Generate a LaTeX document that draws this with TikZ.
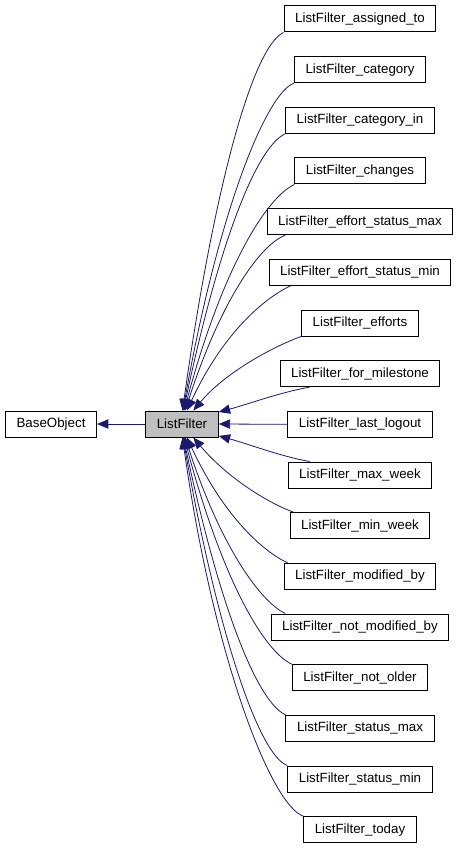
\documentclass[tikz,border=0pt]{standalone}
\usepackage{fontspec}
\setmainfont{Liberation Sans}
\usepackage{tikz}
\usetikzlibrary{arrows.meta}

\definecolor{linkblue}{HTML}{191970}
\definecolor{boxgray}{HTML}{BFBFBF}

\begin{document}
\begin{tikzpicture}[x=0.75pt, y=0.75pt, node distance={38pt},
    cls/.style = {draw, line width=0.75pt, minimum height=19.5pt, inner xsep=8.3pt, inner ysep=0pt},
    link/.style = {draw=linkblue, line width=0.6pt, -{Triangle[length=8.5pt,width=7pt]}, color=linkblue}]
            \useasboundingbox (0,0) rectangle (458,-848);

            \node[cls] (base) at (51,-424) {BaseObject};
            \node[cls, fill=boxgray] (lf) at (182,-424) {ListFilter};

            \node[cls] (asg) at (360,-19) {ListFilter\_assigned\_to};
            \node[cls] (cat) [below of=asg] {ListFilter\_category};
            \node[cls] (catin) [below of=cat] {ListFilter\_category\_in};
            \node[cls] (chg) [below of=catin] {ListFilter\_changes};
            \node[cls] (esmax) [below of=chg] {ListFilter\_effort\_status\_max};
            \node[cls] (esmin) [below of=esmax] {ListFilter\_effort\_status\_min};
            \node[cls] (eff) [below of=esmin] {ListFilter\_efforts};
            \node[cls] (formil) [below of=eff] {ListFilter\_for\_milestone};
            \node[cls] (lastlog) [below of=formil] {ListFilter\_last\_logout};
            \node[cls] (maxwk) [below of=lastlog] {ListFilter\_max\_week};
            \node[cls] (minwk) [below of=maxwk] {ListFilter\_min\_week};
            \node[cls] (modby) [below of=minwk] {ListFilter\_modified\_by};
            \node[cls] (notmod) [below of=modby] {ListFilter\_not\_modified\_by};
            \node[cls] (notold) [below of=notmod] {ListFilter\_not\_older};
            \node[cls] (stmax) [below of=notold] {ListFilter\_status\_max};
            \node[cls] (stmin) [below of=stmax] {ListFilter\_status\_min};
            \node[cls] (today) [below of=stmin] {ListFilter\_today};

            \draw[link] (lf.west) -- (base.east);

            % classes above ListFilter
            \draw[link] (asg.south west) .. controls +(205:35) and +(82:220) .. (lf.88);
            \draw[link] (cat.south west) .. controls +(200:30) and +(80:200) .. (lf.86);
            \draw[link] (catin.south west) .. controls +(205:30) and +(78:180) .. (lf.84);
            \draw[link] (chg.south west) .. controls +(205:30) and +(75:150) .. (lf.81);
            \draw[link] ([xshift=14pt]esmax.south west) .. controls +(200:25) and +(72:120) .. (lf.77);
            \draw[link] ([xshift=16.5pt]esmin.south west) .. controls +(205:25) and +(65:90) .. (lf.70);
            \draw[link] (eff.south west) .. controls +(200:30) and +(50:50) .. (lf.50);
            \draw[link] ([xshift=22.5pt]formil.south west) .. controls +(190:30) and +(15:30) .. (lf.18);

            \draw[link] (lastlog.west) -- (lf.east);

            % classes below ListFilter
            \draw[link] ([xshift=16.5pt]maxwk.north west) .. controls +(170:30) and +(-15:30) .. (lf.-18);
            \draw[link] ([xshift=3pt]minwk.north west) .. controls +(160:30) and +(-50:50) .. (lf.-50);
            \draw[link] ([xshift=3pt]modby.north west) .. controls +(155:25) and +(-65:90) .. (lf.-70);
            \draw[link] ([xshift=11pt]notmod.north west) .. controls +(155:25) and +(-72:120) .. (lf.-77);
            \draw[link] (notold.north west) .. controls +(155:30) and +(-75:150) .. (lf.-81);
            \draw[link] (stmax.north west) .. controls +(155:30) and +(-78:180) .. (lf.-84);
            \draw[link] (stmin.north west) .. controls +(160:30) and +(-80:200) .. (lf.-86);
            \draw[link] (today.north west) .. controls +(160:35) and +(-82:220) .. (lf.-88);
        \end{tikzpicture}
\end{document}
